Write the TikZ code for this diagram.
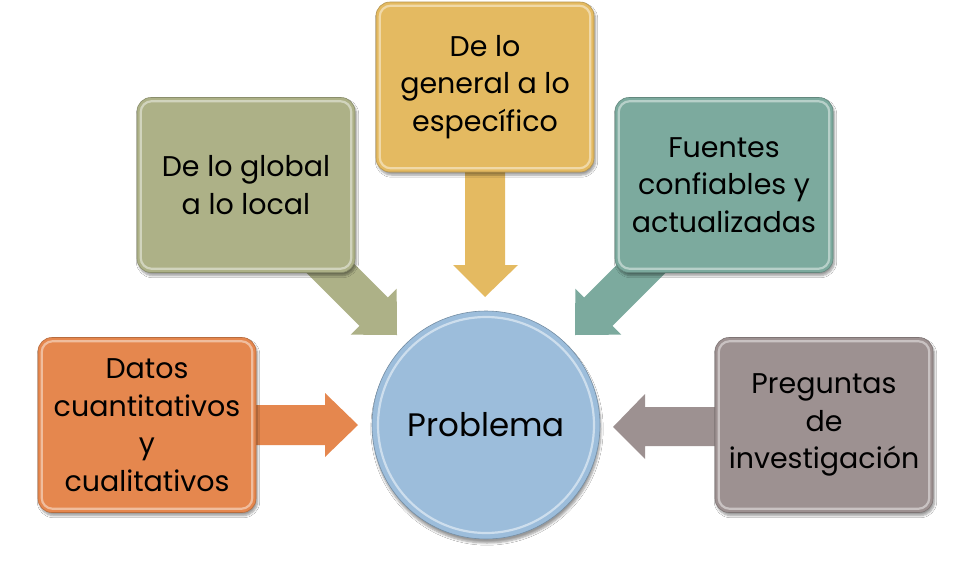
\documentclass[tikz,border=0pt]{standalone}
\usepackage{fontspec}
\setmainfont{Poppins}
\usetikzlibrary{shadows.blur,calc}
\definecolor{cOrange}{RGB}{229,135,78}
\definecolor{cGreen}{RGB}{173,177,135}
\definecolor{cYellow}{RGB}{228,186,97}
\definecolor{cTeal}{RGB}{124,170,158}
\definecolor{cGray}{RGB}{157,145,145}
\definecolor{cBlue}{RGB}{156,189,219}
\tikzset{
  box/.style={rounded corners=14pt, minimum width=218pt, minimum height=175pt,
    align=center, inner sep=0pt, text=black,
    font=\fontsize{28.5}{37.5}\selectfont,
    blur shadow={shadow xshift=1.5pt, shadow yshift=-3pt, shadow opacity=40, shadow blur steps=6},
    draw=#1!80!black, line width=0.6pt, fill=#1},
  hilite/.style={rounded corners=11pt, draw=white, draw opacity=0.45, line width=2.2pt},
}
\begin{document}
\begin{tikzpicture}[x=1pt,y=-1pt]
\path[use as bounding box, fill=white] (0,0) rectangle (972,560);

% block arrows (drawn first, boxes cover the shafts)
\coordinate (tipO) at (358,425);
\fill[cOrange] (240,405) -- (325,405) -- (325,393) -- (tipO) -- (325,457) -- (325,445) -- (240,445) -- cycle;

\coordinate (tipY) at (485,297);
\fill[cYellow] (465,150) -- (465,265) -- (453,265) -- (tipY) -- (518,265) -- (505,265) -- (505,150) -- cycle;

\coordinate (tipG) at (397,335);
\begin{scope}[shift={(tipG)}, rotate=-45]
  \fill[cGreen] (-137,-20) -- (-33,-20) -- (-33,-32.5) -- (0,0) -- (-33,32.5) -- (-33,20) -- (-137,20) -- cycle;
\end{scope}

\coordinate (tipT) at (575,335);
\begin{scope}[shift={(tipT)}, rotate=-135]
  \fill[cTeal] (-137,-20) -- (-33,-20) -- (-33,-32.5) -- (0,0) -- (-33,32.5) -- (-33,20) -- (-137,20) -- cycle;
\end{scope}

\coordinate (tipP) at (613,427);
\fill[cGray] (740,407) -- (645,407) -- (645,394) -- (tipP) -- (645,459) -- (645,446) -- (740,446) -- cycle;

% boxes
\node[box=cOrange] (datos) at (147,425) {Datos\\cuantitativos\\y\\cualitativos};
\draw[hilite] ([shift={(4,4)}]datos.north west) rectangle ([shift={(-4,-4)}]datos.south east);

\node[box=cGreen] (glob) at (246,185) {De lo global\\a lo local};
\draw[hilite] ([shift={(4,4)}]glob.north west) rectangle ([shift={(-4,-4)}]glob.south east);

\node[box=cYellow, minimum height=170pt] (gen) at (485,87) {De lo\\general a lo\\específico};
\draw[hilite] ([shift={(4,4)}]gen.north west) rectangle ([shift={(-4,-4)}]gen.south east);

\node[box=cTeal] (fuen) at (724,185) {Fuentes\\confiables y\\actualizadas};
\draw[hilite] ([shift={(4,4)}]fuen.north west) rectangle ([shift={(-4,-4)}]fuen.south east);

\node[box=cGray] (preg) at (824,425) {Preguntas\\de\\investigación};
\draw[hilite] ([shift={(4,4)}]preg.north west) rectangle ([shift={(-4,-4)}]preg.south east);

% central circle
\node[circle, minimum size=228pt, inner sep=0pt, fill=cBlue, draw=cBlue!75!black, line width=0.6pt,
  blur shadow={shadow xshift=1pt, shadow yshift=-4pt, shadow opacity=40, shadow blur steps=6},
  font=\fontsize{32.5}{40}\selectfont] (prob) at (486,425) {Problema};
\draw[white, opacity=0.5, line width=2.2pt] (prob.center) circle (108);
\end{tikzpicture}
\end{document}
